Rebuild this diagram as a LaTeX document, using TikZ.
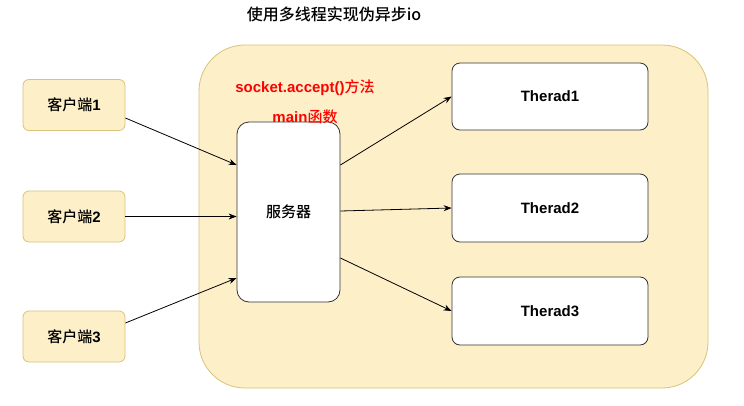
\documentclass[tikz,border=0pt]{standalone}
\usepackage{fontspec}
\usetikzlibrary{arrows.meta}
\setmainfont{Liberation Sans}
\newfontfamily\cjk{Noto Sans CJK SC}[BoldFont={* Medium}]
\definecolor{paleyellow}{HTML}{FDF0C9}
\definecolor{paleedge}{HTML}{D9C27A}
\definecolor{boxedge}{HTML}{333333}
\tikzset{>={Stealth[length=8pt,width=6pt]}}
\begin{document}
\begin{tikzpicture}[x=1pt, y=-1pt, font=\fontsize{15}{18}\selectfont\bfseries, line width=0.8pt]
\useasboundingbox (0,0) rectangle (744,405);
\fill[white] (0,0) rectangle (744,405);
\node[font=\fontsize{16}{18}\selectfont\cjk\bfseries] (title) at (334, 14) {使用多线程实现伪异步io};
\node[draw=paleedge, fill=paleyellow, rounded corners=46pt, minimum width=509pt, minimum height=343pt] (pool) at (453.5, 216.5) {};
\node[draw=paleedge, fill=paleyellow, rounded corners=6pt, minimum width=102pt, minimum height=51pt] (client1) at (74, 105) {{\cjk 客户端}1};
\node[draw=paleedge, fill=paleyellow, rounded corners=6pt, minimum width=102pt, minimum height=51pt] (client2) at (74, 216.5) {{\cjk 客户端}2};
\node[draw=paleedge, fill=paleyellow, rounded corners=6pt, minimum width=102pt, minimum height=51pt] (client3) at (74, 336.5) {{\cjk 客户端}3};
\node[draw=boxedge, fill=white, rounded corners=12pt, minimum width=103pt, minimum height=180pt] (server) at (288.5, 212) {\cjk 服务器};
\node[text=red] (accept) at (305, 88) {socket.accept(){\cjk 方法}};
\node[text=red] (mainfn) at (305, 117) {main{\cjk 函数}};
\node[draw=boxedge, fill=white, rounded corners=8pt, minimum width=196pt, minimum height=67pt] (thread1) at (550, 96.5) {Therad1};
\node[draw=boxedge, fill=white, rounded corners=8pt, minimum width=196pt, minimum height=68pt] (thread2) at (550, 208) {Therad2};
\node[draw=boxedge, fill=white, rounded corners=8pt, minimum width=196pt, minimum height=68pt] (thread3) at (550, 311) {Therad3};
\draw[->] ([yshift=-13pt]client1.east) -- ([yshift=47pt]server.west);
\draw[->] (client2.east) -- (client2.east -| server.west);
\draw[->] ([yshift=13.5pt]client3.east) -- ([yshift=-66pt]server.west);
\draw[->] ([yshift=47pt]server.east) -- (thread1.west);
\draw[->] ([yshift=1pt]server.east) -- (thread2.west);
\draw[->] ([yshift=-46pt]server.east) -- (thread3.west);
\end{tikzpicture}
\end{document}
